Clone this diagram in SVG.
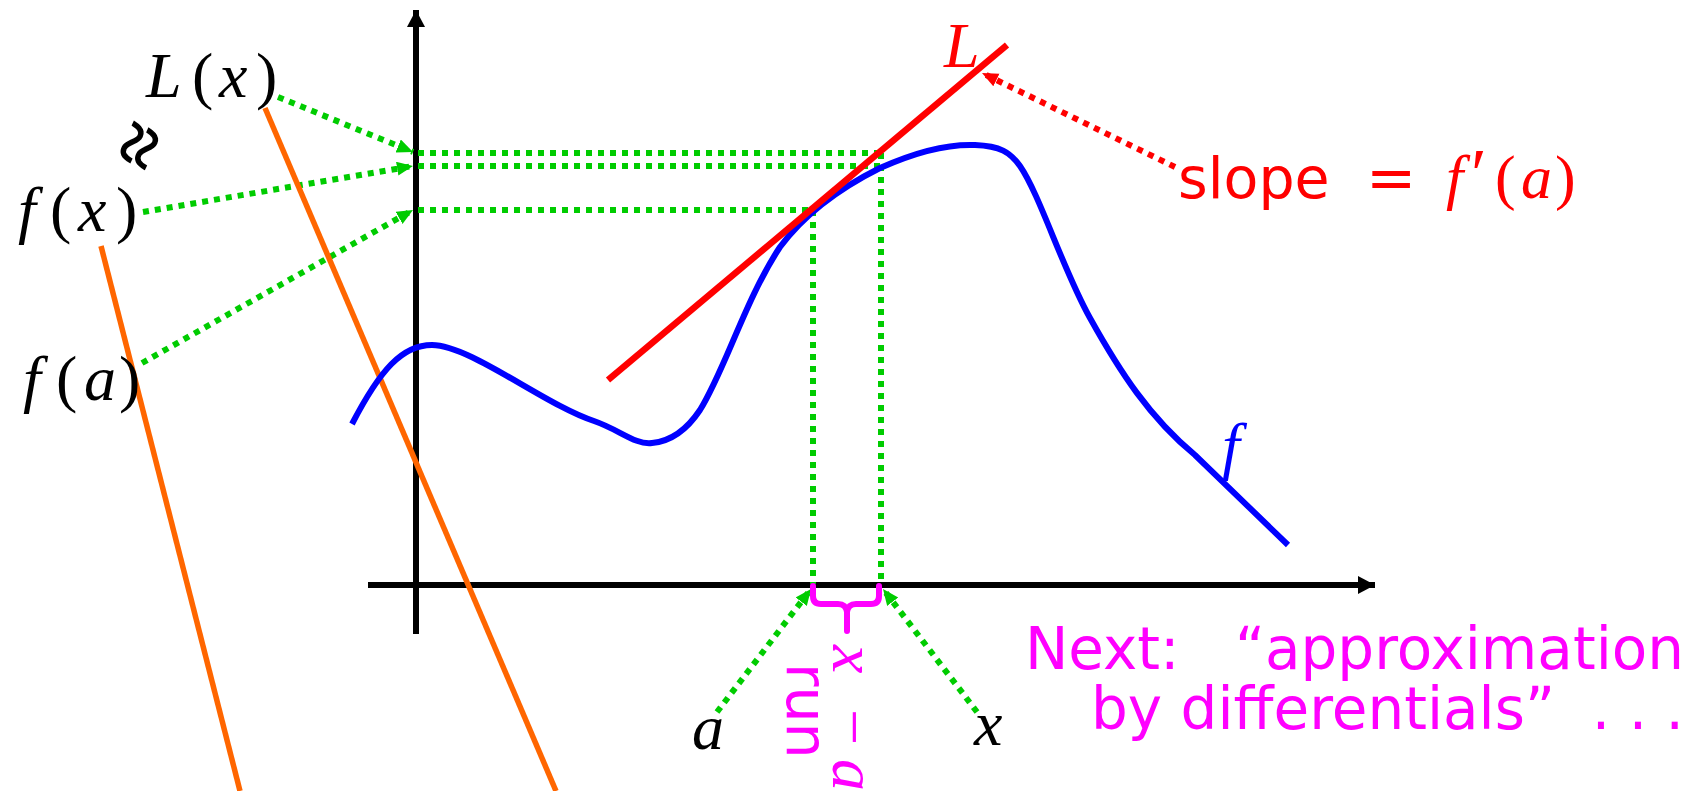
<svg xmlns="http://www.w3.org/2000/svg" width="1693" height="791" viewBox="0 0 1693 791">
<style>
.m{font-family:"Liberation Serif","DejaVu Serif",serif;font-size:64px}
.i{font-style:italic}
.s{font-family:"DejaVu Sans","Liberation Sans",sans-serif}
.g{stroke:#00cc00;stroke-width:6;stroke-dasharray:6 6;fill:none}
.ax{stroke:#000;stroke-width:6;fill:none}
.or{stroke:#ff6600;stroke-width:5.5;fill:none}
</style>
<defs>
<marker id="ag" markerUnits="userSpaceOnUse" markerWidth="18" markerHeight="16" refX="16" refY="7" orient="auto"><path d="M0,0 L16,7 L0,14 Z" fill="#00cc00"/></marker>
<marker id="ar" markerUnits="userSpaceOnUse" markerWidth="18" markerHeight="16" refX="16" refY="7" orient="auto"><path d="M0,0 L16,7 L0,14 Z" fill="#ff0000"/></marker>
<marker id="ak" markerUnits="userSpaceOnUse" markerWidth="20" markerHeight="20" refX="17" refY="9" orient="auto"><path d="M0,0 L17,9 L0,18 Z" fill="#000"/></marker>
</defs>
<rect width="1693" height="791" fill="#fff"/>

<g id="axes">
<line class="ax" x1="416" y1="634" x2="416" y2="10" marker-end="url(#ak)"/>
<line class="ax" x1="368" y1="585" x2="1375" y2="585" marker-end="url(#ak)"/>
</g>

<g id="connectors">
<line class="g" x1="418" y1="153" x2="881" y2="153"/>
<line class="g" x1="418" y1="166" x2="881" y2="166"/>
<line class="g" x1="418" y1="210" x2="813" y2="210"/>
<line class="g" x1="813" y1="210" x2="813" y2="584"/>
<line class="g" x1="881" y1="153" x2="881" y2="584"/>
<line class="g" x1="278" y1="97" x2="413" y2="152" marker-end="url(#ag)"/>
<line class="g" x1="143" y1="212" x2="413" y2="166" marker-end="url(#ag)"/>
<line class="g" x1="142" y1="363" x2="413" y2="210" marker-end="url(#ag)"/>
<line class="g" x1="717" y1="712" x2="811" y2="589" marker-end="url(#ag)"/>
<line class="g" x1="977" y1="712" x2="883" y2="589" marker-end="url(#ag)"/>
<line x1="1175" y1="167" x2="982" y2="73" stroke="#ff0000" stroke-width="6" stroke-dasharray="6 6" marker-end="url(#ar)"/>
<line class="or" x1="101" y1="246" x2="240" y2="791"/>
<line class="or" x1="265" y1="108" x2="556" y2="791"/>
</g>

<g id="curve-f">
<path d="M352,424 C380,370 402,345 432,345 C470,345 545,405 594,421 C620,430 635,445 652,443 C675,441 690,425 700,410 C725,370 745,300 780,247 C800,220 830,193 880,168 C920,150 950,144 975,145 C1000,146 1010,152 1020,166 C1040,195 1063,270 1090,318 C1120,372 1150,418 1195,455 L1288,545" fill="none" stroke="#0000ff" stroke-width="6"/>
<text class="m i" x="1222" y="467" fill="#0000ff">f</text>
</g>

<g id="line-L">
<line x1="608" y1="380" x2="1007" y2="45" stroke="#ff0000" stroke-width="6.5"/>
<text class="m i" x="944" y="67" fill="#ff0000">L</text>
</g>

<g id="label-Lx"><text class="m" y="97" fill="#000"><tspan class="i" x="146">L</tspan><tspan x="192">(</tspan><tspan class="i" x="219">x</tspan><tspan x="256">)</tspan></text></g>
<g id="label-approx"><text class="m" x="0" y="0" style="font-size:80px" stroke="#000" stroke-width="1.5" transform="translate(139,145) rotate(-65)" text-anchor="middle" dominant-baseline="central">≈</text></g>
<g id="label-fx"><text class="m" y="231"><tspan class="i" x="18">f</tspan><tspan x="50">(</tspan><tspan class="i" x="78">x</tspan><tspan x="116">)</tspan></text></g>
<g id="label-fa"><text class="m" y="400"><tspan class="i" x="23">f</tspan><tspan x="56">(</tspan><tspan class="i" x="84">a</tspan><tspan x="119">)</tspan></text></g>

<g id="label-slope" fill="#ff0000">
<text class="s" x="1178" y="198" font-size="57">slope</text>
<text class="s" x="1366" y="198" font-size="60">=</text>
<text class="m" y="198" style="font-size:62px"><tspan class="i" x="1446">f</tspan><tspan x="1471" style="font-size:72px">′</tspan><tspan x="1495">(</tspan><tspan class="i" x="1521">a</tspan><tspan x="1555">)</tspan></text>
</g>

<g id="label-a"><text class="m i" x="692" y="749">a</text></g>
<g id="label-x"><text class="m i" x="974" y="745">x</text></g>

<g id="brace" fill="#ff00ff">
<path d="M813,586 V596 Q813,604 821,604 H838 Q846,604 847,612 V631 M847,612 Q848,604 856,604 H871 Q879,604 879,596 V586" fill="none" stroke="#ff00ff" stroke-width="6" stroke-linecap="round"/>
<text class="m" transform="translate(833,645) rotate(90)" y="0"><tspan class="i" x="0">x</tspan><tspan x="64">−</tspan><tspan class="i" x="114">a</tspan></text>
<text class="s" transform="translate(787,663) rotate(90)" x="0" y="0" font-size="57">run</text>
</g>

<g id="note" fill="#ff00ff">
<text class="s" x="1684" y="669" font-size="58" text-anchor="end" xml:space="preserve">Next:   “approximation</text>
<text class="s" x="1684" y="729" font-size="58" text-anchor="end" xml:space="preserve">by differentials”  . . .</text>
</g>
</svg>
